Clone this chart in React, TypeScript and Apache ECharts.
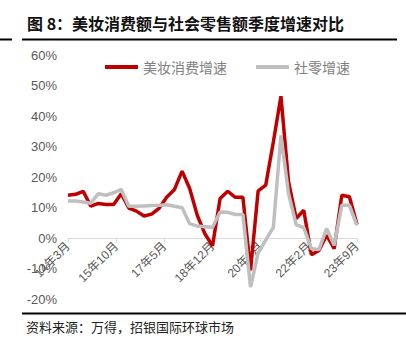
import React, { useEffect, useRef } from "react";
import * as echarts from "echarts";

// Monthly category axis: 2014-03 .. 2023-09
const startYear = 2014;
const startMonth = 3;
const monthCount = 115;
const months: string[] = [];
for (let k = 0; k < monthCount; k++) {
  const t = startYear * 12 + (startMonth - 1) + k;
  months.push(`${Math.floor(t / 12) % 100}年${(t % 12) + 1}月`);
}
// Quarter-end months where values are observed
const quarterMonths = months.filter((_, k) => k % 3 === 0);

const seriesNames = ["美妆消费增速", "社零增速"];

// 美妆消费增速 (%), quarterly from 14年3月 to 23年9月
const cosmeticsGrowth = [
  14.1, 14.4, 15.4, 10.5, 11.4, 11.1, 11.1, 14.6, 9.9, 8.9,
  7.3, 7.9, 9.9, 13.5, 16.0, 22.0, 16.3, 7.5, 1.5, -2.5,
  13.0, 15.4, 13.4, 13.4, -10.5, 15.5, 17.4, 31.5, 46.5, 18.5,
  6.5, 9.2, -5.4, -4.0, 1.0, -3.4, 14.1, 13.6, 4.5,
];

// 社零增速 (%), quarterly from 14年3月 to 23年9月
const retailGrowth = [
  12.2, 12.2, 11.9, 11.5, 14.6, 14.1, 14.9, 16.0, 10.5, 10.5,
  10.6, 10.7, 10.8, 11.0, 10.5, 10.0, 4.8, 4.0, 3.8, 3.6,
  8.6, 8.5, 7.8, 7.8, -16.0, -4.8, -0.6, 3.6, 33.7, 14.6,
  4.5, 3.5, -3.4, -3.7, 3.2, -2.3, 10.8, 10.8, 4.2,
];

const yMin = -20;
const yMax = 60;
const yInterval = 10;

const titleText = "图 8：美妆消费额与社会零售额季度增速对比";
const sourceText = "资料来源：万得，招银国际环球市场";

const gridTop = 55;
const gridBottom = 57.6;
const chartHeight = 357;

export default function App() {
  const ref = useRef<HTMLDivElement>(null);
  useEffect(() => {
    if (!ref.current) return;
    const chart = echarts.init(ref.current, null, { renderer: "svg" });
    const cjk = "'Liberation Sans', 'Noto Sans CJK SC', sans-serif";
    // distance from grid bottom (yMin) up to the zero line
    const plotH = chartHeight - gridTop - gridBottom;
    const zeroOffset = (plotH * (0 - yMin)) / (yMax - yMin);
    chart.setOption({
      animation: false,
      backgroundColor: "#ffffff",
      textStyle: { fontFamily: cjk },
      grid: { left: 68, right: 49, top: gridTop, bottom: gridBottom, containLabel: false },
      legend: {
        left: 100,
        top: 55,
        itemWidth: 33,
        itemHeight: 4,
        itemGap: 29,
        icon: "rect",
        textStyle: { fontSize: 14, color: "#808080", fontFamily: "'Noto Sans CJK SC', sans-serif" },
        data: seriesNames,
      },
      xAxis: {
        type: "category",
        data: months,
        boundaryGap: false,
        position: "bottom",
        offset: -zeroOffset,
        axisLine: { onZero: false, lineStyle: { color: "#d9d9d9", width: 1 } },
        axisTick: { show: true, interval: 18, length: 4, lineStyle: { color: "#d9d9d9" } },
        axisLabel: {
          interval: 18,
          rotate: 45,
          fontSize: 12,
          color: "#595959",
          margin: 6,
          fontFamily: cjk,
        },
        splitLine: { show: false },
      },
      yAxis: {
        type: "value",
        min: yMin,
        max: yMax,
        interval: yInterval,
        axisLine: { show: false },
        axisTick: { show: false },
        splitLine: { show: false },
        axisLabel: {
          formatter: "{value}%",
          fontSize: 13,
          color: "#595959",
          margin: 11,
          fontFamily: "'Liberation Sans', sans-serif",
        },
      },
      series: [
        {
          name: seriesNames[0],
          type: "line",
          data: quarterMonths.map((m, i) => [m, cosmeticsGrowth[i]]),
          showSymbol: false,
          symbol: "none",
          itemStyle: { color: "#c00000" },
          lineStyle: { color: "#c00000", width: 3.5 },
        },
        {
          name: seriesNames[1],
          type: "line",
          data: quarterMonths.map((m, i) => [m, retailGrowth[i]]),
          showSymbol: false,
          symbol: "none",
          itemStyle: { color: "#bfbfbf" },
          lineStyle: { color: "#bfbfbf", width: 3.5 },
        },
      ],
      graphic: [
        {
          type: "text",
          left: 27,
          top: 15,
          style: {
            text: titleText,
            fontSize: 16,
            fontWeight: "bold",
            fill: "#111111",
            fontFamily: "'Noto Sans CJK SC', sans-serif",
          },
        },
        {
          type: "line",
          shape: { x1: 0, y1: 39.5, x2: 12, y2: 39.5 },
          style: { stroke: "#000000", lineWidth: 2 },
        },
        {
          type: "line",
          shape: { x1: 22, y1: 39.5, x2: 397, y2: 39.5 },
          style: { stroke: "#000000", lineWidth: 2 },
        },
        {
          type: "line",
          shape: { x1: 22, y1: 313.5, x2: 406, y2: 313.5 },
          style: { stroke: "#000000", lineWidth: 2 },
        },
        {
          type: "text",
          left: 26,
          top: 320,
          style: {
            text: sourceText,
            fontSize: 13,
            fill: "#222222",
            fontFamily: "'Noto Sans CJK SC', sans-serif",
          },
        },
      ],
    });
    return () => chart.dispose();
  }, []);
  return (
    <div
      ref={ref}
      style={{ position: "fixed", left: 0, top: 0, width: 406, height: 357, background: "#fff" }}
    />
  );
}
